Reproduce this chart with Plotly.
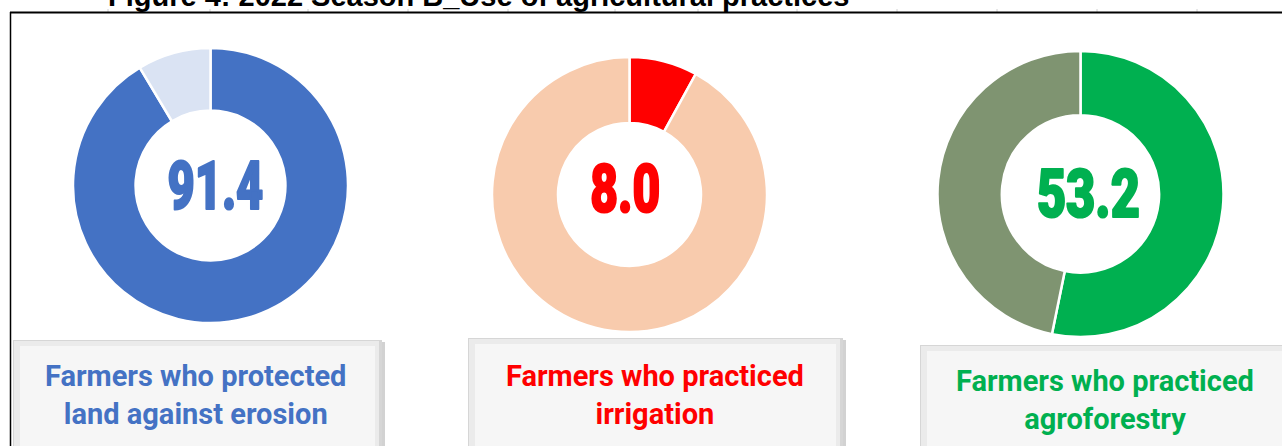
import plotly.graph_objects as go

W, H = 1282, 446

# ---- data ----
title_text = "Figure 4: 2022 Season B_Use of agricultural practices"
labels = ["Farmers who protected<br>land against erosion",
          "Farmers who practiced<br>irrigation",
          "Farmers who practiced<br>agroforestry"]
values = [91.4, 8.0, 53.2]
main_colors = ["#4472C4", "#FF0000", "#00B050"]
rest_colors = ["#DAE3F3", "#F8CBAD", "#7F9471"]

# ---- layout geometry (pixels) ----
centers = [(210.5, 185.5, 137.5, 0.545),
           (629.5, 194.5, 137.5, 0.52),
           (1080.5, 194.0, 143.0, 0.55)]
number_pos = [(215.5, 186.5), (625.0, 189.0), (1088.0, 194.0)]
boxes = [(13, 340, 382, 452), (468, 338, 843, 452), (920, 345, 1290, 452)]
label_pos = [(195, 395), (655, 395), (1105, 400)]

fig = go.Figure()

for i, v in enumerate(values):
    cx, cy, r, hole = centers[i]
    fig.add_trace(go.Pie(
        values=[v, round(100 - v, 1)],
        labels=["Yes", "No"],
        marker=dict(colors=[main_colors[i], rest_colors[i]],
                    line=dict(color="white", width=2.5)),
        hole=hole, sort=False, direction="clockwise", rotation=0,
        textinfo="none", hoverinfo="label+value", showlegend=False,
        domain=dict(x=[(cx - r) / W, (cx + r) / W],
                    y=[1 - (cy + r) / H, 1 - (cy - r) / H]),
    ))
    nx, ny = number_pos[i]
    fig.add_annotation(x=nx, y=ny, xref="x", yref="y",
                       text=f"{v:.1f}", showarrow=False,
                       font=dict(family="Roboto", weight=900,
                                 size=66, color=main_colors[i]),
                       xanchor="center", yanchor="middle")

shapes = []
for (x0, y0, x1, y1) in boxes:
    shapes.append(dict(type="rect", x0=x0 + 2, y0=y0 + 2, x1=x1 + 3, y1=y1 + 3,
                       fillcolor="#d2d2d2", line=dict(width=0), layer="below"))
    shapes.append(dict(type="rect", x0=x0, y0=y0, x1=x1, y1=y1,
                       fillcolor="#d6d6d6", line=dict(width=0), layer="below"))
    shapes.append(dict(type="rect", x0=x0 + 1, y0=y0 + 1, x1=x1 - 3, y1=y1,
                       fillcolor="#ebebeb", line=dict(width=0), layer="below"))
    shapes.append(dict(type="rect", x0=x0 + 7, y0=y0 + 6, x1=x1 - 7, y1=y1 - 6,
                       fillcolor="#f6f6f6", line=dict(width=0), layer="below"))

# faint cell-grid stubs above the rule
for gx in [108, 210, 308, 408, 508, 615, 698, 797, 897, 997, 1097, 1197]:
    shapes.append(dict(type="line", x0=gx, y0=9, x1=gx, y1=12,
                       line=dict(color="#d0d0d0", width=1), layer="below"))
# top rule and left border
shapes.append(dict(type="line", x0=10, y0=12.5, x1=W, y1=12.5,
                   line=dict(color="black", width=2.2), layer="above"))
shapes.append(dict(type="line", x0=10.5, y0=12, x1=10.5, y1=H,
                   line=dict(color="black", width=1.5), layer="above"))

for i, lab in enumerate(labels):
    lx, ly = label_pos[i]
    fig.add_annotation(x=lx, y=ly, xref="x", yref="y", text=f"<b>{lab}</b>",
                       showarrow=False, align="center",
                       font=dict(family="Roboto", size=29, color=main_colors[i]),
                       xanchor="center", yanchor="middle")

fig.add_annotation(x=478.5, y=14, xref="x", yref="y", text=f"<b>{title_text}</b>",
                   showarrow=False, xanchor="center", yanchor="bottom",
                   font=dict(family="Liberation Sans, Arial", size=29, color="black"))

fig.update_layout(
    width=W, height=H, margin=dict(l=0, r=0, t=0, b=0),
    paper_bgcolor="white", plot_bgcolor="white",
    xaxis=dict(range=[0, W], visible=False, fixedrange=True),
    yaxis=dict(range=[H, 0], visible=False, fixedrange=True),
    shapes=shapes,
)

post = """
document.body.style.margin = '0';
var gd = document.getElementById('{plot_id}');
var widths = {'91.4': 96, '8.0': 70, '53.2': 103};
gd.querySelectorAll('text.annotation-text').forEach(function (t) {
  var s = t.textContent.trim();
  if (widths[s]) {
    t.setAttribute('textLength', widths[s]);
    t.setAttribute('lengthAdjust', 'spacingAndGlyphs');
    var c = t.style.fill || window.getComputedStyle(t).fill;
    t.style.stroke = c;
    t.style.strokeWidth = '2.2px';
    t.style.strokeLinejoin = 'round';
  }
});
"""

fig.write_html("out.html", post_script=post,
               config={"responsive": False, "displayModeBar": False})
